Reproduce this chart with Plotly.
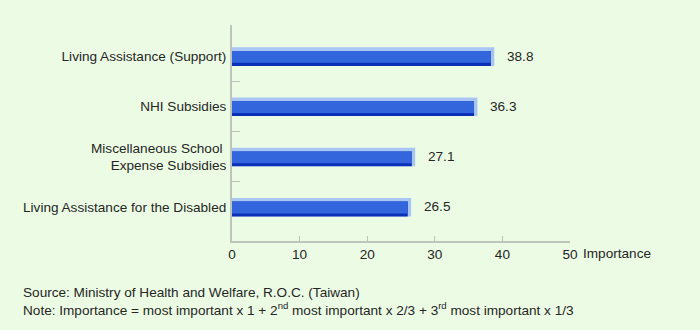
import plotly.graph_objects as go

categories = ["Living Assistance (Support)", "NHI Subsidies",
              "Miscellaneous School <br>Expense Subsidies",
              "Living Assistance for the Disabled"]
values = [38.8, 36.3, 27.1, 26.5]
x_ticks = [0, 10, 20, 30, 40, 50]
boundary_ticks = [0.5, 1.5, 2.5]
source_text = "Source: Ministry of Health and Welfare, R.O.C. (Taiwan)"
note_text = ("Note: Importance = most important x 1 + 2<sup>nd</sup> most important x 2/3 + "
             "3<sup>rd</sup> most important x 1/3")
axis_title = "Importance"

BG = "#ecfce4"
LIGHT = "#a9c5f3"
MAIN = "#3366dd"
DARK = "#0b30b8"
AXIS = "#bcc4bc"
TXT = "#262626"
FONT = "Liberation Sans, Arial, sans-serif"
FS = 13.6

bevel = 0.5  # data units shorter for inner bars (end bevel)
inner_vals = [v - bevel for v in values]

fig = go.Figure()
fig.add_trace(go.Bar(y=categories, x=values, orientation="h", width=0.37, offset=-0.18,
                     marker=dict(color=LIGHT, line=dict(width=0)), hoverinfo="skip"))
fig.add_trace(go.Bar(y=categories, x=inner_vals, orientation="h", width=0.297, offset=-0.107,
                     marker=dict(color=DARK, line=dict(width=0)), hoverinfo="skip"))
fig.add_trace(go.Bar(y=categories, x=inner_vals, orientation="h", width=0.235, offset=-0.107,
                     marker=dict(color=MAIN, line=dict(width=0)), hoverinfo="skip"))
# empty helper trace so the boundary-tick axis is drawn
fig.add_trace(go.Scatter(x=[None], y=[None], yaxis="y2", mode="markers", hoverinfo="skip"))

annotations = []
for c, v in zip(categories, values):
    annotations.append(dict(x=v, y=c, xref="x", yref="y", text=f"{v:.1f}", showarrow=False,
                            xanchor="left", yanchor="middle", xshift=11,
                            font=dict(size=FS, color=TXT, family=FONT)))
annotations.append(dict(x=1, y=0, xref="paper", yref="paper", text=axis_title, showarrow=False,
                        xanchor="left", yanchor="middle", xshift=11, yshift=-12,
                        font=dict(size=FS, color=TXT, family=FONT)))
annotations.append(dict(x=0, y=0, xref="paper", yref="paper", text=source_text, showarrow=False,
                        xanchor="left", yanchor="middle", xshift=-211, yshift=-51,
                        font=dict(size=FS, color=TXT, family=FONT)))
annotations.append(dict(x=0, y=0, xref="paper", yref="paper", text=note_text, showarrow=False,
                        xanchor="left", yanchor="middle", xshift=-211, yshift=-68,
                        font=dict(size=FS, color=TXT, family=FONT)))

yrange = [3.678, -0.625]
fig.update_layout(
    width=700, height=330,
    margin=dict(l=232, r=130, t=25, b=89, pad=0),
    paper_bgcolor=BG, plot_bgcolor=BG,
    barmode="overlay", showlegend=False,
    font=dict(family=FONT, size=FS, color=TXT),
    xaxis=dict(range=[0, 50], tickvals=x_ticks, ticks="inside", ticklen=5, tickcolor=AXIS,
               tickwidth=1, showline=True, linecolor=AXIS, linewidth=2, showgrid=False,
               zeroline=False, tickfont=dict(size=FS, color=TXT)),
    yaxis=dict(type="category", categoryorder="array", categoryarray=categories, range=yrange,
               showline=True, linecolor=AXIS, linewidth=2, showgrid=False, ticks="",
               zeroline=False, tickfont=dict(size=FS, color=TXT), ticklabelstandoff=1),
    yaxis2=dict(overlaying="y", anchor="x", side="left", range=yrange,
                tickvals=boundary_ticks, ticks="inside", ticklen=8, tickcolor=AXIS,
                showticklabels=False, showgrid=False, zeroline=False, showline=False),
    annotations=annotations,
)
fig.write_html("out.html")
